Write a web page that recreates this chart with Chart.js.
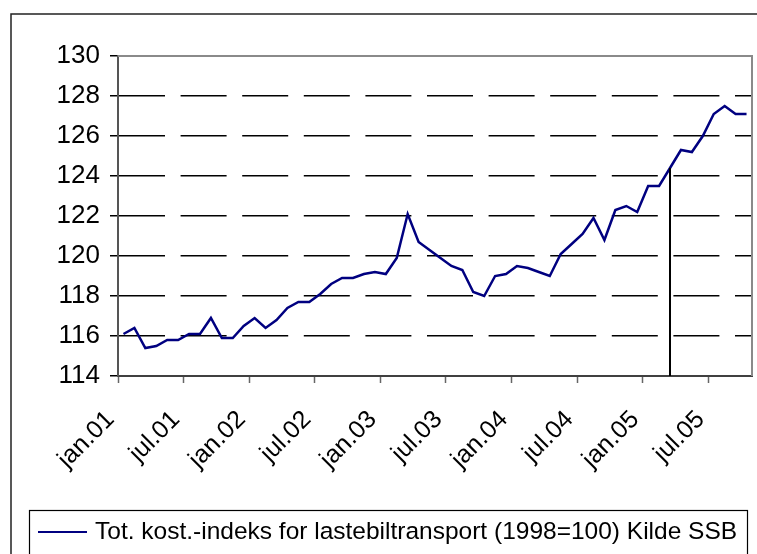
<!DOCTYPE html>
<html>
<head>
<meta charset="utf-8">
<script src="https://cdn.jsdelivr.net/npm/chart.js@4/dist/chart.umd.min.js"></script>
<style>
  html, body { margin: 0; padding: 0; background: #fff; }
  canvas { display: block; }
</style>
</head>
<body>
<canvas id="c" width="757" height="554"></canvas>
<script>
const monthNames = ['jan','feb','mar','apr','mai','jun','jul','aug','sep','okt','nov','des'];
const years = ['01','02','03','04','05'];
const categories = [];
years.forEach(y => monthNames.forEach(m => categories.push(m + '.' + y)));
categories.length = 58; // jan.01 .. okt.05

const seriesLabel = 'Tot. kost.-indeks for lastebiltransport (1998=100) Kilde SSB';
const indexValues = [
  116.1, 116.4, 115.4, 115.5, 115.8, 115.8, 116.1, 116.1, 116.9, 115.9, 115.9, 116.5,
  116.9, 116.4, 116.8, 117.4, 117.7, 117.7, 118.1, 118.6, 118.9, 118.9, 119.1, 119.2,
  119.1, 119.9, 122.1, 120.7, 120.3, 119.9, 119.5, 119.3, 118.2, 118.0, 119.0, 119.1,
  119.5, 119.4, 119.2, 119.0, 120.1, 120.6, 121.1, 121.9, 120.8, 122.3, 122.5, 122.2,
  123.5, 123.5, 124.4, 125.3, 125.2, 126.0, 127.1, 127.5, 127.1, 127.1
];
const markerCategory = 'mar.05';
const yTicks = [114, 116, 118, 120, 122, 124, 126, 128, 130];

const FONT = "'Liberation Sans', Arial, sans-serif";

const framePlugin = {
  id: 'frame',
  beforeDraw(chart) {
    const ctx = chart.ctx;
    ctx.save();
    ctx.fillStyle = '#fff';
    ctx.fillRect(0, 0, chart.width, chart.height);
    ctx.strokeStyle = '#222';
    ctx.lineWidth = 1.5;
    ctx.beginPath();
    ctx.moveTo(11, chart.height + 5);
    ctx.lineTo(11, 14);
    ctx.lineTo(chart.width + 5, 14);
    ctx.stroke();
    ctx.restore();
  },
  afterDatasetsDraw(chart) {
    const ctx = chart.ctx;
    const xs = chart.scales.x, ys = chart.scales.y;
    const idx = categories.indexOf(markerCategory);
    const px = xs.getPixelForValue(idx);
    const py = ys.getPixelForValue(indexValues[idx]);
    ctx.save();
    ctx.strokeStyle = '#000';
    ctx.lineWidth = 2;
    ctx.beginPath();
    ctx.moveTo(px, py);
    ctx.lineTo(px, chart.chartArea.bottom);
    ctx.stroke();
    ctx.restore();
  },
  afterDraw(chart) {
    const ctx = chart.ctx;
    const a = chart.chartArea;
    ctx.save();
    ctx.strokeStyle = '#8a8a8a';
    ctx.lineWidth = 2;
    ctx.beginPath();
    ctx.moveTo(a.left, a.top);
    ctx.lineTo(a.right, a.top);
    ctx.lineTo(a.right, a.bottom);
    ctx.stroke();
    // legend box
    ctx.strokeStyle = '#000';
    ctx.lineWidth = 1.2;
    ctx.strokeRect(29.5, 510.5, 718, 80);
    ctx.strokeStyle = '#000080';
    ctx.lineWidth = 2;
    ctx.beginPath();
    ctx.moveTo(38, 532);
    ctx.lineTo(87, 532);
    ctx.stroke();
    ctx.fillStyle = '#000';
    ctx.font = '24.5px ' + FONT;
    ctx.textBaseline = 'middle';
    ctx.textAlign = 'left';
    ctx.fillText(chart.data.datasets[0].label, 95, 532);
    ctx.restore();
  }
};

new Chart(document.getElementById('c'), {
  type: 'line',
  data: {
    labels: categories,
    datasets: [{
      label: seriesLabel,
      data: indexValues,
      borderColor: '#000080',
      borderWidth: 2.5,
      pointRadius: 0,
      tension: 0,
      fill: false
    }]
  },
  options: {
    responsive: false,
    animation: false,
    devicePixelRatio: 1,
    layout: { padding: { top: 56, right: 5, left: 0, bottom: 0 } },
    plugins: { legend: { display: false }, tooltip: { enabled: false } },
    scales: {
      x: {
        type: 'category',
        offset: true,
        grid: {
          offset: true,
          drawOnChartArea: false,
          tickLength: 7,
          tickWidth: 1.5,
          tickColor: ctx => (ctx.index % 6 === 0 && ctx.index < categories.length) ? '#666' : 'rgba(0,0,0,0)'
        },
        border: { color: '#404040', width: 2 },
        ticks: {
          autoSkip: false,
          minRotation: 45,
          maxRotation: 45,
          padding: 22,
          labelOffset: -13,
          color: '#000',
          font: { family: FONT, size: 25 },
          callback: (v, i) => (i % 6 === 0 ? categories[i] : '')
        },
        afterFit: s => { s.height = 178; s.paddingLeft = 0; s.paddingRight = 0; }
      },
      y: {
        min: 114,
        max: 130,
        afterBuildTicks: s => { s.ticks = yTicks.map(v => ({ value: v })); },
        grid: {
          color: ctx => (ctx.tick && (ctx.tick.value === 114 || ctx.tick.value === 130)) ? 'rgba(0,0,0,0)' : '#000',
          lineWidth: 1.5,
          tickLength: 8,
          tickColor: '#000',
          tickWidth: 1.5
        },
        border: { color: '#555', width: 2, dash: [46, 15.6] },
        ticks: {
          padding: 10,
          color: '#000',
          font: { family: FONT, size: 26 }
        },
        afterFit: s => { s.width = 118; }
      }
    }
  },
  plugins: [framePlugin]
});
</script>
</body>
</html>
